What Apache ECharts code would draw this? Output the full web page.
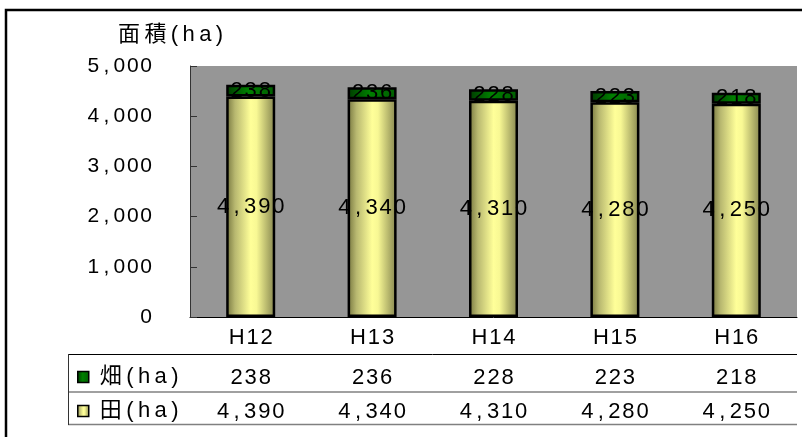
<!DOCTYPE html>
<html>
<head>
<meta charset="utf-8">
<script src="https://cdn.jsdelivr.net/npm/echarts@6/dist/echarts.min.js"></script>
<style>
html, body { margin: 0; padding: 0; background: #fff; }
#main { width: 802px; height: 437px; }
</style>
</head>
<body>
<div id="main"></div>
<script>
// 面積の推移（田・畑）
const categories = ['H12', 'H13', 'H14', 'H15', 'H16'];
const taName = '田(ha)';
const hataName = '畑(ha)';
const ta = [4390, 4340, 4310, 4280, 4250];
const hata = [238, 236, 228, 223, 218];
const yMax = 5000;
const yStep = 1000;

const font = "'Liberation Sans', 'Noto Sans CJK JP', sans-serif";

// Excelっぽく字間を空ける（カンマの前後は少し広め）
const spaced = (s, gap) => {
	const chars = String(s).split('');
	let out = '';
	chars.forEach((c, i) => {
		if (i > 0) {
			if (gap) out += gap;
			else out += (c == ',' || chars[i - 1] == ',') ? '\u2009' : '\u200A';
		}
		out += c;
	});
	return out;
};
const fmt = v => spaced(Number(v).toLocaleString('en-US'));

let chart = echarts.init(document.getElementById('main'));

const yellow = new echarts.graphic.LinearGradient(0, 0, 1, 0, [
	{ offset: 0, color: '#74743e' },
	{ offset: 0.18, color: '#b8b870' },
	{ offset: 0.5, color: '#ffff99' },
	{ offset: 0.62, color: '#f8f894' },
	{ offset: 1, color: '#84844e' }
]);
const green = new echarts.graphic.LinearGradient(0, 0, 1, 0, [
	{ offset: 0, color: '#003a00' },
	{ offset: 0.45, color: '#008000' },
	{ offset: 1, color: '#005c00' }
]);

// 表の下側の軸（値の行）
const tableAxis = (offset, values, margin) => ({
	type: 'category',
	gridIndex: 0,
	position: 'bottom',
	offset: offset,
	data: categories,
	axisLine: { show: false },
	axisTick: { show: false },
	axisLabel: {
		margin: margin,
		verticalAlign: 'middle',
		color: '#000',
		fontSize: 22,
		fontFamily: font,
		formatter: (v, i) => fmt(values[i])
	}
});

let option = {
	animation: false,
	title: {
		text: spaced('面積(ha)', '\u2009'),
		left: 118,
		top: 24,
		padding: 0,
		textStyle: { fontSize: 22, lineHeight: 22, fontWeight: 'normal', color: '#000', fontFamily: font }
	},
	legend: {
		data: [hataName, taName],
		orient: 'vertical',
		left: 77,
		top: 366,
		itemWidth: 11,
		itemHeight: 11,
		itemGap: 12,
		padding: 0,
		icon: 'rect',
		selectedMode: false,
		itemStyle: { borderColor: '#000', borderWidth: 1.5 },
		formatter: name => spaced(name, '\u2009'),
		textStyle: { fontSize: 22, lineHeight: 22, color: '#000', fontFamily: font, padding: [0, 0, 0, 6] }
	},
	grid: {
		left: 190,
		right: 5,
		top: 66,
		bottom: 120,
		show: true,
		backgroundColor: '#969696',
		borderWidth: 0
	},
	xAxis: [{
			type: 'category',
			data: categories,
			axisLine: { lineStyle: { color: '#000', width: 1 } },
			axisTick: { length: 108, lineStyle: { color: '#000', width: 1 } },
			axisLabel: { margin: 21, verticalAlign: 'middle', color: '#000', fontSize: 22, fontFamily: font, formatter: v => spaced(v) }
		},
		tableAxis(37, hata, 24),
		tableAxis(75, ta, 20)
	],
	yAxis: {
		type: 'value',
		min: 0,
		max: yMax,
		interval: yStep,
		axisLine: { show: true, lineStyle: { color: '#333', width: 1 } },
		axisTick: { show: true, inside: true, length: 7, lineStyle: { color: '#333' } },
		splitLine: { show: false },
		axisLabel: { margin: 38, color: '#000', fontSize: 21, fontFamily: font, formatter: v => fmt(v) }
	},
	series: [{
			name: taName,
			type: 'bar',
			stack: 'area',
			barWidth: 49,
			data: ta,
			itemStyle: { color: yellow, borderColor: '#000', borderWidth: 2.5 },
			label: { show: true, position: 'inside', color: '#000', fontSize: 22, fontFamily: font, formatter: p => fmt(p.value) }
		},
		{
			name: hataName,
			type: 'bar',
			stack: 'area',
			barWidth: 49,
			data: hata,
			itemStyle: { color: green, borderColor: '#000', borderWidth: 2.5 },
			label: { show: true, position: 'inside', color: '#000', fontSize: 22, fontFamily: font, formatter: p => fmt(p.value) }
		}
	],
	graphic: [
		// 外枠
		{ type: 'rect', shape: { x: 6, y: 10, width: 900, height: 600 }, style: { fill: null, stroke: '#000', lineWidth: 2.5 }, silent: true },
		// 表の罫線
		{ type: 'line', shape: { x1: 68, y1: 354.5, x2: 797, y2: 354.5 }, style: { stroke: '#000', lineWidth: 1 } },
		{ type: 'line', shape: { x1: 68, y1: 392, x2: 797, y2: 392 }, style: { stroke: '#808080', lineWidth: 1.5 } },
		{ type: 'line', shape: { x1: 68, y1: 424.5, x2: 797, y2: 424.5 }, style: { stroke: '#808080', lineWidth: 1.5 } },
		{ type: 'line', shape: { x1: 68.5, y1: 354, x2: 68.5, y2: 425 }, style: { stroke: '#333', lineWidth: 1 } }
	]
};
chart.setOption(option);
</script>
</body>
</html>
